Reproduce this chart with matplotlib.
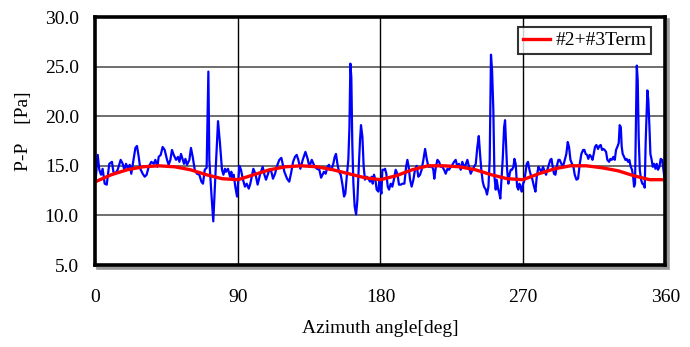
import matplotlib
matplotlib.use("Agg")
import matplotlib.pyplot as plt
import matplotlib.transforms as mtransforms
from matplotlib.patches import Rectangle

plt.rcParams['font.family'] = ['Liberation Serif', 'DejaVu Serif']

# measured P-P pressure (blue), angle in deg
angle = [
    0.0, 1.4, 2.4, 3.5, 4.5, 5.8, 7.1, 8.7, 10.4, 11.3, 12.5, 14.0, 15.9, 17.2, 18.2,
    19.3, 20.5, 21.6, 22.6, 24.1, 25.2, 26.2, 27.3, 28.3, 29.8, 31.1, 32.3, 33.6, 35.3,
    36.8, 37.8, 39.1, 39.9, 41.2, 42.4, 43.7, 45.2, 46.2, 47.3, 48.3, 49.4, 50.9, 52.1,
    53.0, 54.0, 55.1, 55.9, 56.8, 57.8, 59.3, 60.3, 61.4, 62.7, 64.1, 65.6, 66.9, 67.9,
    69.0, 70.2, 71.3, 71.9, 73.2, 74.4, 75.9, 77.4, 78.6, 79.9, 80.8, 81.8, 82.4, 83.7,
    85.0, 85.8, 86.6, 87.3, 88.3, 89.4, 90.2, 90.9, 91.9, 93.0, 94.4, 95.5, 96.8, 97.8,
    99.7, 101.0, 102.4, 103.9, 105.6, 106.7, 107.7, 108.8, 109.8, 111.1, 112.1, 113.4,
    114.7, 116.1, 117.4, 118.2, 119.3, 121.0, 122.4, 123.7, 124.8, 126.0, 127.1, 128.1,
    129.4, 130.9, 132.6, 134.0, 135.1, 136.6, 138.5, 139.9, 141.4, 142.5, 144.3, 145.4,
    146.5, 147.5, 148.1, 149.2, 150.2, 151.1, 151.9, 152.8, 153.8, 154.9, 155.9, 157.0,
    157.8, 158.7, 159.7, 160.4, 161.0, 161.6, 162.2, 162.9, 163.7, 164.6, 165.4, 166.3,
    167.1, 167.7, 168.6, 169.4, 170.2, 171.3, 172.4, 173.4, 174.5, 175.1, 175.9, 176.8,
    177.6, 178.7, 179.3, 179.9, 180.6, 181.2, 182.3, 182.9, 183.7, 184.6, 185.4, 186.5,
    187.5, 188.6, 189.6, 190.7, 191.7, 192.8, 194.0, 195.1, 196.2, 197.0, 197.8, 198.7,
    199.7, 200.8, 201.8, 202.9, 203.9, 205.0, 206.0, 207.1, 208.2, 209.2, 210.3, 211.3,
    212.4, 213.4, 214.0, 215.0, 216.0, 217.0, 218.1, 219.1, 220.2, 221.2, 222.3, 223.3,
    224.4, 225.4, 226.5, 227.5, 228.6, 229.6, 230.7, 231.7, 232.8, 233.8, 234.9, 235.9,
    237.0, 238.1, 239.1, 240.2, 241.2, 242.1, 242.9, 243.7, 244.6, 245.4, 246.5, 247.3,
    248.2, 249.0, 249.8, 250.5, 251.3, 252.0, 252.8, 253.4, 254.3, 255.1, 255.7, 256.4,
    257.2, 258.1, 258.7, 259.3, 260.0, 260.8, 261.6, 262.3, 263.1, 264.0, 264.6, 265.4,
    266.3, 267.1, 267.7, 268.6, 269.2, 270.1, 270.7, 271.5, 272.4, 273.2, 274.1, 274.9,
    276.0, 277.0, 277.9, 278.7, 279.8, 280.8, 281.6, 282.7, 283.8, 284.6, 285.4, 286.5,
    287.3, 288.0, 288.8, 289.6, 290.5, 291.3, 292.4, 293.2, 294.3, 295.3, 296.4, 297.4,
    298.3, 299.1, 300.0, 301.0, 301.9, 302.7, 303.8, 304.8, 305.9, 306.9, 308.0, 308.8,
    309.6, 310.5, 311.3, 312.2, 313.2, 313.9, 314.7, 315.5, 316.4, 317.4, 318.3, 319.1,
    320.0, 320.8, 321.6, 322.5, 323.3, 324.4, 325.2, 326.1, 327.1, 328.0, 328.8, 329.6,
    330.5, 331.1, 331.8, 332.4, 333.0, 333.9, 334.7, 335.5, 336.4, 337.2, 338.1, 338.9,
    339.6, 340.2, 340.8, 341.4, 341.9, 342.5, 343.1, 343.8, 344.6, 345.4, 346.3, 346.9,
    347.5, 348.6, 349.2, 349.9, 350.5, 351.3, 352.0, 352.8, 353.7, 354.5, 355.3, 356.2,
    357.0, 357.9, 358.5, 359.6, 360.0,
]
pp = [
    13.4, 16.1, 14.6, 14.1, 14.7, 13.2, 13.1, 15.2, 15.4, 14.4, 14.2, 14.6, 15.6, 15.2, 14.6,
    15.2, 14.7, 15.1, 14.2, 15.7, 16.8, 17.0, 15.9, 14.7, 14.2, 13.9, 14.1, 14.9, 15.4,
    15.2, 15.6, 14.9, 15.9, 16.1, 16.9, 16.6, 15.6, 15.1, 15.6, 16.6, 16.1, 15.6, 15.9,
    15.4, 16.2, 15.6, 15.2, 15.7, 15.1, 15.6, 16.8, 15.9, 14.6, 14.2, 14.1, 13.4, 13.2,
    14.6, 14.8, 24.5, 15.6, 12.2, 9.4, 14.6, 19.5, 17.3, 14.6, 14.1, 14.7, 14.4, 14.7,
    13.9, 14.4, 13.6, 14.1, 12.9, 11.9, 13.6, 15.0, 14.6, 13.7, 12.9, 13.2, 12.7, 13.2,
    14.7, 14.2, 13.1, 14.1, 14.9, 14.1, 13.6, 14.1, 14.6, 14.4, 13.7, 14.2,
    15.0, 15.6, 15.8, 15.2, 14.4, 13.7, 13.4, 14.4, 15.4, 15.9, 16.1, 15.6,
    14.7, 15.6, 16.4, 15.7, 14.9, 15.6, 14.9, 14.7, 14.6, 13.8, 14.4, 14.2,
    14.9, 15.1, 14.6, 14.7, 15.2, 15.9, 16.2, 15.2, 14.4, 14.1, 13.2, 11.9,
    12.2, 13.9, 15.6, 18.9, 25.3, 23.9, 17.3, 13.2, 10.9, 10.1, 11.5, 14.9,
    17.6, 19.1, 17.9, 14.9, 13.6, 13.9, 13.7, 13.4, 13.9, 13.2, 14.1, 13.6,
    12.6, 12.4, 13.6, 12.9, 12.2, 14.6, 14.6, 14.7, 14.2, 12.9, 12.6, 13.2,
    12.9, 13.7, 14.6, 14.2, 13.1, 13.1, 13.2, 13.2, 14.9, 15.6, 14.9, 13.6,
    12.9, 13.6, 14.6, 15.0, 13.9, 14.1, 14.6, 15.6, 16.7, 15.7, 14.9, 14.9,
    15.0, 14.6, 13.7, 14.9, 15.6, 15.4, 14.9, 14.9, 14.6, 14.2, 14.7, 14.6,
    14.9, 15.1, 15.4, 15.6, 14.9, 15.2, 14.6, 15.4, 14.9, 15.1, 15.6, 14.9,
    14.2, 14.6, 14.9, 15.2, 16.9, 18.0, 16.2, 14.6, 13.4, 12.9, 12.6, 12.1,
    12.9, 15.6, 26.2, 24.6, 20.6, 13.9, 12.6, 13.6, 12.7, 12.2, 11.7, 13.6,
    15.6, 18.9, 19.6, 17.3, 14.6, 13.2, 14.2, 14.6, 14.6, 14.9, 15.7, 15.2,
    12.9, 12.6, 13.2, 12.9, 12.4, 13.2, 13.4, 14.2, 15.2, 15.4, 14.6, 14.1,
    13.6, 12.9, 12.4, 13.9, 14.9, 14.6, 14.4, 14.9, 14.4, 14.1, 14.6, 15.2,
    15.6, 15.7, 14.9, 14.2, 14.1, 14.9, 15.6, 15.6, 15.2, 14.9, 15.6, 16.2,
    17.4, 16.9, 15.6, 15.2, 14.9, 14.1, 13.6, 13.7, 15.2, 16.2, 16.6, 16.6,
    16.2, 16.1, 15.7, 16.1, 15.9, 15.6, 16.2, 16.9, 17.1, 16.7, 17.0, 17.1,
    16.6, 16.7, 16.6, 16.4, 15.6, 15.4, 15.7, 15.6, 15.9, 15.6, 16.6, 16.9,
    17.3, 19.1, 18.9, 16.9, 16.2, 15.9, 15.6, 15.7, 15.4, 15.6, 14.9, 14.6,
    13.9, 12.9, 13.2, 19.6, 25.1, 23.6, 17.9, 14.6, 13.6, 13.2, 13.1, 12.8,
    17.3, 22.6, 21.6, 18.9, 16.2, 15.6, 14.9, 15.2, 14.7, 15.2, 14.6, 14.9,
    15.7, 15.6, 14.9, 13.6, 11.9,
]

# fitted #2+#3 term (red)
fit_angle = [0, 10, 20, 30, 40, 50, 60, 70, 80, 90, 100, 110, 120, 130, 140, 150, 160, 170,
             180, 190, 200, 210, 220, 230, 240, 250, 260, 270, 280, 290, 300, 310, 320,
             330, 340, 350, 360]
fit_pp = [13.4, 14.1, 14.6, 14.9, 15.0, 14.9, 14.6, 14.1, 13.7, 13.6, 14.1, 14.6, 14.9, 15.0,
          14.9, 14.6, 14.2, 13.8, 13.6, 14.0, 14.6, 15.0, 15.0, 14.9, 14.6, 14.1, 13.7,
          13.6, 14.2, 14.7, 15.0, 15.0, 14.8, 14.5, 14.0, 13.6, 13.6]

fig = plt.figure(figsize=(6.9, 3.47), dpi=100)
ax = fig.add_axes([0.1384, 0.2363, 0.826, 0.7147])

ax.plot(angle, pp, color='#0000ff', lw=1.6, zorder=3)
ax.plot(fit_angle, fit_pp, color='#ff0000', lw=2.4, zorder=4, label='#2+#3Term')

ax.set_xlim(0, 360)
ax.set_ylim(5, 30)
ax.set_xticks([0, 90, 180, 270, 360])
ax.set_yticks([5, 10, 15, 20, 25, 30])
ax.set_yticklabels(['5.0', '10.0', '15.0', '20.0', '25.0', '30.0'])
ax.tick_params(length=0, labelsize=14)
ax.tick_params(axis='x', pad=17)
ax.tick_params(axis='y', pad=12)

for v in [10, 15, 20, 25]:
    ax.axhline(v, color='#555555', lw=1.2, zorder=1)
for v in [90, 180, 270]:
    ax.axvline(v, color='black', lw=1.0, zorder=1)

for s in ax.spines.values():
    s.set_linewidth(2.6)
    s.set_zorder(5)

# drop shadow of the frame
shadow_tr = mtransforms.offset_copy(ax.transAxes, fig=fig, x=2.5, y=-2.5, units='dots')
fig.add_artist(Rectangle((0, 0), 1, 1, transform=shadow_tr, fill=False,
                         edgecolor='#999999', lw=2.6, zorder=-1))

ax.set_xlabel('Azimuth angle[deg]', fontsize=14, labelpad=10)
ax.set_ylabel('P-P    [Pa]', fontsize=14)
ax.yaxis.set_label_coords(-0.112, 0.54)

leg = ax.legend(loc='upper right', bbox_to_anchor=(0.975, 0.96), fontsize=14,
                frameon=True, fancybox=False, handlelength=1.4, handletextpad=0.25,
                borderpad=0.25, borderaxespad=0)
leg.get_frame().set_edgecolor('black')
leg.get_frame().set_linewidth(1.5)

fig.savefig('out.png', dpi=100)
